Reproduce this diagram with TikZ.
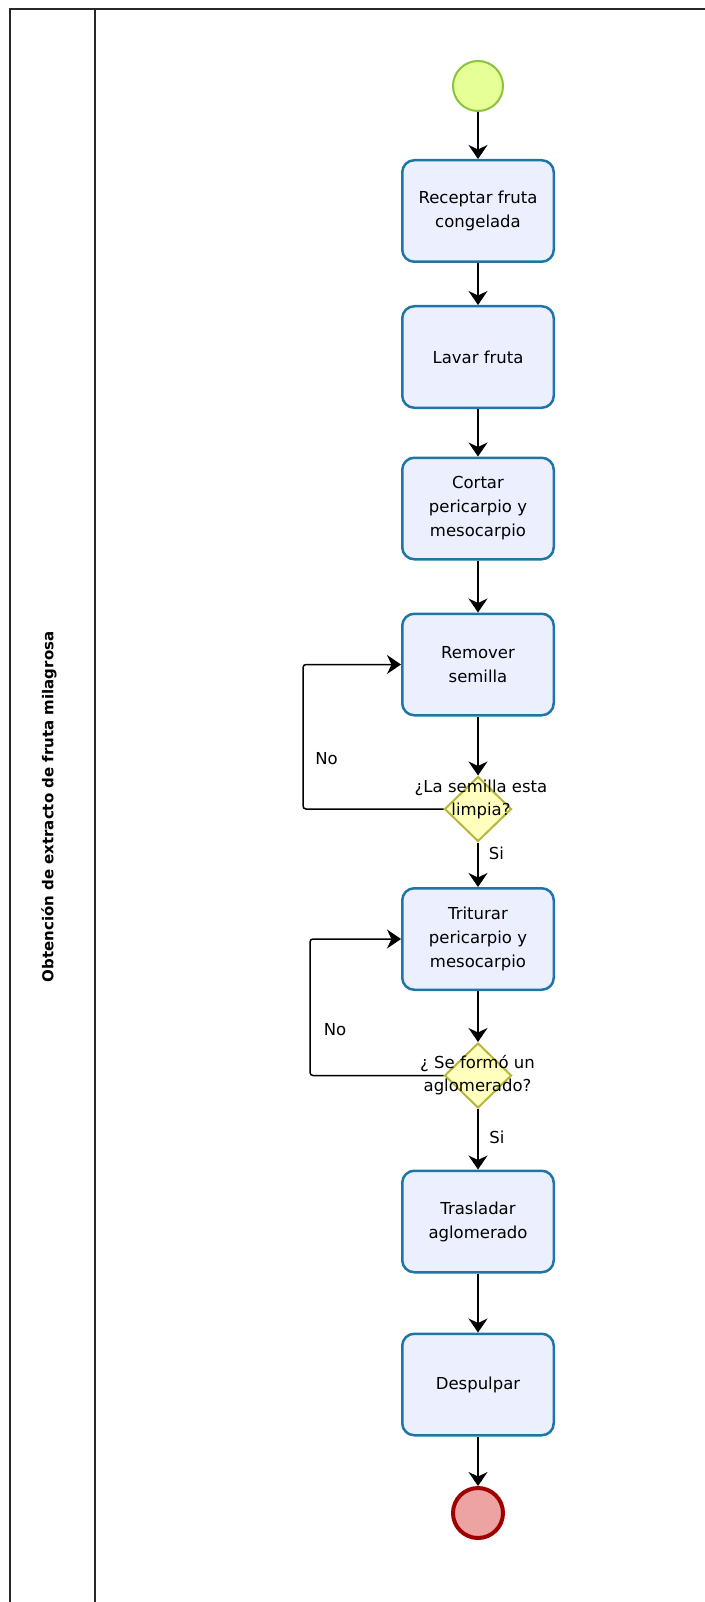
\documentclass[tikz,border=0pt]{standalone}
\usepackage{fontspec}
\setmainfont{DejaVu Sans}
\usetikzlibrary{shapes.geometric,arrows.meta}

\definecolor{taskdraw}{RGB}{30,118,166}
\definecolor{taskfill}{RGB}{235,239,254}
\definecolor{startdraw}{RGB}{138,196,58}
\definecolor{startfill}{RGB}{230,255,151}
\definecolor{enddraw}{RGB}{160,0,0}
\definecolor{endfill}{RGB}{238,163,163}
\definecolor{gatedraw}{RGB}{182,182,58}
\definecolor{gatefill}{RGB}{255,255,190}
\definecolor{lanedraw}{RGB}{40,40,40}

\tikzset{
  task/.style={draw=taskdraw, fill=taskfill, line width=2.5pt, rounded corners=12pt,
    minimum width=151.5pt, minimum height=101.5pt, inner sep=0pt, align=center,
    font=\fontsize{16.5}{24}\selectfont},
  startev/.style={circle, draw=startdraw, fill=startfill, line width=2pt,
    minimum size=50pt, inner sep=0pt},
  endev/.style={circle, draw=enddraw, fill=endfill, line width=4pt,
    minimum size=50pt, inner sep=0pt},
  gate/.style={diamond, draw=gatedraw, fill=gatefill, line width=2pt,
    minimum width=67pt, minimum height=65pt, inner sep=0pt},
  gatetext/.style={align=center, inner sep=0pt, font=\fontsize{16.5}{23}\selectfont},
  flowlabel/.style={inner sep=0pt, font=\fontsize{16.5}{18}\selectfont},
  arr/.style={line width=1.5pt, draw=black,
    -{Stealth[length=14pt, width=19pt, inset=4.5pt]}},
  lane/.style={line width=2pt, draw=lanedraw}
}

\begin{document}
\begin{tikzpicture}[x=1pt, y=-1pt]
  \useasboundingbox (0,0) rectangle (704,1602);

  % pool frame and lane header
  \draw[lane] (10,1610) -- (10,9.5) -- (712,9.5);
  \draw[lane] (95,9.5) -- (95,1610);
  \node[rotate=90, font=\bfseries\fontsize{15}{18}\selectfont] (lanetitle) at (49,807)
    {Obtención de extracto de fruta milagrosa};

  % flow elements
  \node[startev] (start) at (478,86) {};
  \node[task] (b1) at (478,211) {Receptar fruta\\congelada};
  \node[task] (b2) at (478,357) {Lavar fruta};
  \node[task] (b3) at (478,508.5) {Cortar\\pericarpio y\\mesocarpio};
  \node[task] (b4) at (478,664.5) {Remover\\semilla};
  \node[gate] (d1) at (478,809) {};
  \node[task] (b5) at (478,939) {Triturar\\pericarpio y\\mesocarpio};
  \node[gate] (d2) at (478,1075.5) {};
  \node[task] (b6) at (478,1221.5) {Trasladar\\aglomerado};
  \node[task] (b7) at (478,1384.5) {Despulpar};
  \node[endev] (end) at (478,1513) {};

  % sequence flows
  \draw[arr] (start) -- (b1);
  \draw[arr] (b1) -- (b2);
  \draw[arr] (b2) -- (b3);
  \draw[arr] (b3) -- (b4);
  \draw[arr] (b4) -- (d1);
  \draw[arr] (d1) -- (b5);
  \draw[arr, rounded corners=3pt] (d1.west) -- ++(-140.5,0) |- (b4.west);
  \draw[arr] (b5) -- (d2);
  \draw[arr] (d2) -- (b6);
  \draw[arr, rounded corners=3pt] (d2.west) -- ++(-133.5,0) |- (b5.west);
  \draw[arr] (b6) -- (b7);
  \draw[arr] (b7) -- (end);

  % gateway questions and flow labels
  \node[gatetext] (q1) at (481,799) {¿La semilla esta\\limpia?};
  \node[gatetext] (q2) at (477.5,1075) {¿ Se formó un\\aglomerado?};
  \node[flowlabel] (no1) at (326.5,759) {No};
  \node[flowlabel] (si1) at (496.5,853) {Si};
  \node[flowlabel] (no2) at (335,1030) {No};
  \node[flowlabel] (si2) at (497,1137) {Si};
\end{tikzpicture}
\end{document}
